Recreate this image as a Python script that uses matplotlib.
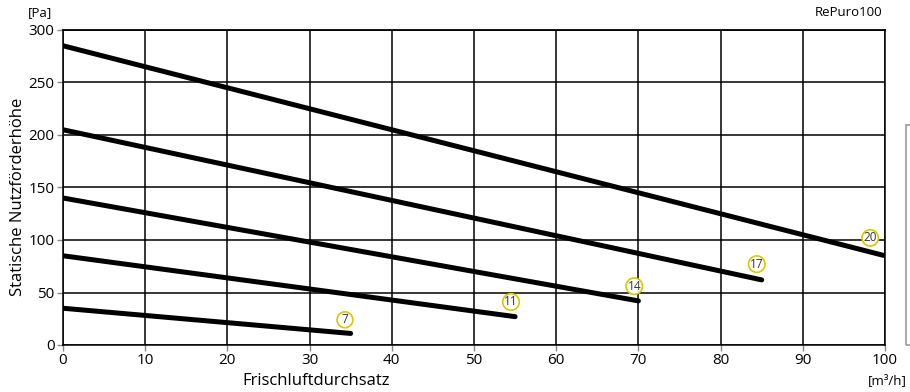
import matplotlib.pyplot as plt
from matplotlib.patches import Rectangle

# fan curves: airflow [m3/h] vs. static pressure [Pa]
speeds = ["7", "11", "14", "17", "20"]
flow_start = [0, 0, 0, 0, 0]
flow_end = [35, 55, 70, 85, 100]
pressure_start = [35, 85, 140, 205, 285]
pressure_end = [11, 27, 42, 62, 85]
label_x = [34.3, 54.5, 69.5, 84.4, 98.2]
label_y = [24, 41, 56, 77, 102]

xticks = list(range(0, 101, 10))
yticks = list(range(0, 301, 50))

plt.rcParams['font.family'] = ['Open Sans', 'DejaVu Sans']

fig = plt.figure(figsize=(9.1, 3.92), dpi=100)
ax = fig.add_axes([63 / 910, 1 - 345 / 392, 822 / 910, 315 / 392])

for x0, x1, y0, y1 in zip(flow_start, flow_end, pressure_start, pressure_end):
    ax.plot([x0, x1], [y0, y1], color='black', lw=3.6, solid_capstyle='round', zorder=3)

for s, lx, ly in zip(speeds, label_x, label_y):
    ax.text(lx, ly, s, ha='center', va='center', fontsize=8.5, color='#333333', zorder=4,
            bbox=dict(boxstyle='circle,pad=0.12', fc='white', ec='#d8c800', lw=1.2))

ax.set_xlim(0, 100)
ax.set_ylim(0, 300)
ax.set_xticks(xticks)
ax.set_yticks(yticks)
ax.grid(True, color='black', lw=1.1)
ax.set_axisbelow(True)
for sp in ax.spines.values():
    sp.set_color('black')
    sp.set_linewidth(1.1)
ax.spines['top'].set_linewidth(1.3)
ax.tick_params(length=4, width=1, color='#888888', labelsize=11, pad=2)

fig.text(40 / 910, 1 - 13 / 392, "[Pa]", ha='center', va='center', fontsize=9.5)
fig.text(882 / 910, 1 - 13 / 392, "RePuro100", ha='right', va='center', fontsize=9.5)
fig.text(907 / 910, 1 - 381 / 392, "[m³/h]", ha='right', va='center', fontsize=9.5)
fig.text(316 / 910, 1 - 381 / 392, "Frischluftdurchsatz", ha='center', va='center', fontsize=12)
fig.text(18 / 910, 1 - 197 / 392, "Statische Nutzförderhöhe", ha='center', va='center',
         rotation=90, fontsize=12)

# partial frame at the right edge
fig.patches.append(Rectangle((906 / 910, 1 - 345 / 392), 0.02, 220 / 392,
                             transform=fig.transFigure, fill=False, ec='#999999', lw=1.2))

fig.savefig("out.png", dpi=100)
